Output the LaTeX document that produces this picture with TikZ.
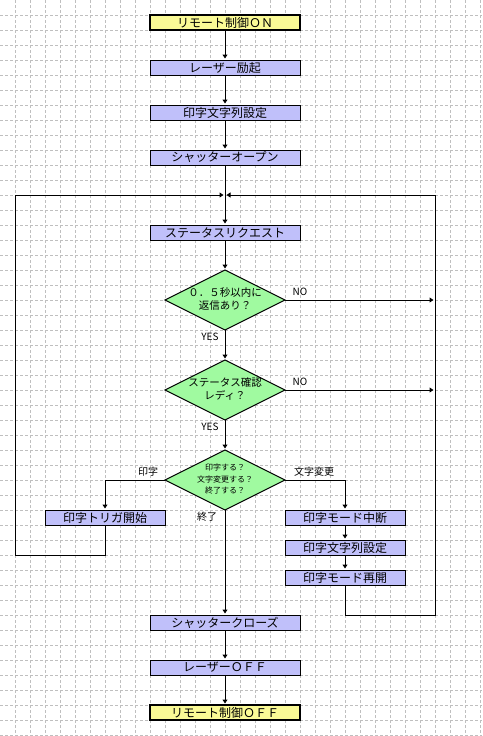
\documentclass[tikz,border=0pt]{standalone}
\usepackage{fontspec}
\setmainfont{Noto Sans CJK JP}
\usetikzlibrary{shapes.geometric,arrows.meta}
\definecolor{yel}{RGB}{250,250,150}
\definecolor{blu}{RGB}{192,192,250}
\definecolor{grn}{RGB}{160,250,160}
\begin{document}
\begin{tikzpicture}[x=1pt,y=-1pt,
  gridline/.style={draw=black!25, line width=0.8pt, dash pattern=on 3pt off 2pt},
  box/.style={draw, line width=1pt, fill=blu, minimum width=150pt, minimum height=15pt, inner sep=0pt, outer sep=0pt, font=\fontsize{12}{12}\selectfont},
  sbox/.style={box, minimum width=120pt},
  term/.style={box, fill=yel, line width=2.5pt},
  dia/.style={diamond, draw, fill=grn, line width=1pt, minimum width=120pt, minimum height=60pt, inner sep=0pt, outer sep=0pt, aspect=2},
  dtext/.style={align=center, inner sep=0pt, font=\fontsize{10.5}{13.5}\selectfont},
  dtextsm/.style={align=center, inner sep=0pt, font=\fontsize{8}{11.5}\selectfont},
  lbl/.style={inner sep=0pt, font=\fontsize{10}{10}\selectfont},
  arr/.style={-{Triangle[length=4pt,width=5pt]}, line width=1pt, shorten >=1.5pt},
  ln/.style={line width=1pt}]
\useasboundingbox (0,0) rectangle (482,736);
\fill[white] (0,0) rectangle (482,736);
\foreach \x in {15,30,...,480} \draw[gridline] (\x,0) -- (\x,736);
\foreach \y in {15,30,...,735} \draw[gridline] (0,\y) -- (482,\y);

% nodes
\node[term] (on) at (225,22.5) {リモート制御ＯＮ};
\node[box] (laser) at (225,67.5) {レーザー励起};
\node[box] (set1) at (225,112.5) {印字文字列設定};
\node[box] (open) at (225,157.5) {シャッターオープン};
\node[box] (req) at (225,232.5) {ステータスリクエスト};
\node[dia] (d1) at (225,300) {};
\node[dtext] (d1t) at (225,299) {０．５秒以内に\\返信あり？};
\node[dia] (d2) at (225,390) {};
\node[dtext] (d2t) at (225,389) {ステータス確認\\レディ？};
\node[dia] (d3) at (225,480) {};
\node[dtextsm] (d3t) at (225,479) {印字する？\\文字変更する？\\終了する？};
\node[sbox] (trig) at (105,517.5) {印字トリガ開始};
\node[sbox] (stop) at (345,517.5) {印字モード中断};
\node[sbox] (set2) at (345,547.5) {印字文字列設定};
\node[sbox] (resume) at (345,577.5) {印字モード再開};
\node[box] (close) at (225,622.5) {シャッタークローズ};
\node[box] (loff) at (225,667.5) {レーザーＯＦＦ};
\node[term] (off) at (225,712.5) {リモート制御ＯＦＦ};

\coordinate (m) at (225,195);
\coordinate (Lt) at (15,195);
\coordinate (Lb) at (15,555);
\coordinate (Rt) at (435,195);
\coordinate (Rb) at (435,615);

% connectors
\draw[arr] (on) -- (laser);
\draw[arr] (laser) -- (set1);
\draw[arr] (set1) -- (open);
\draw[arr] (open) -- (req);
\draw[arr] (req) -- (d1);
\draw[arr] (d1) -- (d2);
\draw[arr] (d2) -- (d3);
\draw[arr] (d3.south) -- (close);
\draw[arr] (close) -- (loff);
\draw[arr] (loff) -- (off);
\draw[arr] (d1.east) -- (d1.east -| Rt);
\draw[arr] (d2.east) -- (d2.east -| Rt);
\draw[arr] (d3.west) -| (trig.north);
\draw[arr] (d3.east) -| (stop.north);
\draw[arr] (stop) -- (set2);
\draw[arr] (set2) -- (resume);
\draw[arr] (trig.south) |- (Lb) -- (Lt) -- (m);
\draw[arr] (resume.south) |- (Rb) -- (Rt) -- (m);

% labels
\node[lbl] (no1) at (300,292) {NO};
\node[lbl] (no2) at (300,382) {NO};
\node[lbl] (yes1) at (210,337) {YES};
\node[lbl] (yes2) at (210,427) {YES};
\node[lbl] (lp) at (148,472) {印字};
\node[lbl] (lc) at (314,472) {文字変更};
\node[lbl] (le) at (207,517) {終了};
\end{tikzpicture}
\end{document}
